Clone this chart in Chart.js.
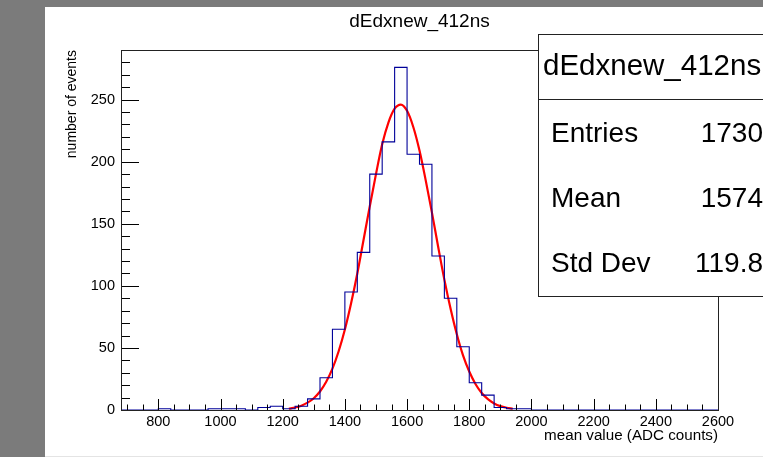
<!DOCTYPE html>
<html>
<head>
<meta charset="utf-8">
<script src="https://cdn.jsdelivr.net/npm/chart.js@4/dist/chart.umd.min.js"></script>
<style>
  html, body { margin: 0; padding: 0; }
  body { width: 763px; height: 457px; background: #7b7b7b; position: relative; overflow: hidden; }
  #pad { position: absolute; left: 45px; top: 7px; width: 718px; height: 449px; background: #fff; border-bottom: 1px solid #e4e4e4; }
  #wrap { position: absolute; left: 0; top: 0; width: 763px; height: 457px; }
</style>
</head>
<body>
<div id="pad"></div>
<div id="wrap"><canvas id="hist" width="763" height="457"></canvas></div>
<script>
// histogram: lower bin edges (40 ADC wide) and counts
var binEdges = [680, 720, 760, 800, 840, 880, 920, 960, 1000, 1040, 1080, 1120, 1160, 1200, 1240, 1280,
                1320, 1360, 1400, 1440, 1480, 1520, 1560, 1600, 1640, 1680, 1720, 1760, 1800, 1840, 1880, 1920,
                1960, 2000, 2040, 2080, 2120, 2160, 2200, 2240, 2280, 2320, 2360, 2400, 2440, 2480, 2520, 2560];
var upperEdge = 2600;
var counts = [0, 0, 0, 1, 0, 0, 0, 1, 1, 1, 0, 2, 3, 1, 3, 9,
              26, 65, 95, 127, 190, 216, 276, 206, 198, 124, 90, 51, 22, 12, 2, 1,
              1, 0, 0, 0, 0, 0, 0, 0, 0, 0, 0, 0, 0, 0, 0, 0];

// gaussian fit curve
var fitX = [1220, 1240, 1260, 1280, 1300, 1320, 1340, 1360, 1380, 1400, 1420, 1440, 1460, 1480, 1500, 1520,
            1540, 1560, 1580, 1600, 1620, 1640, 1660, 1680, 1700, 1720, 1740, 1760, 1780, 1800, 1820, 1840,
            1860, 1880, 1900, 1920, 1940];
var fitY = [1.1, 2.0, 3.5, 5.9, 9.5, 14.9, 22.7, 33.3, 47.3, 64.8, 86, 110, 137, 164, 190, 214,
            231.5, 242.7, 246, 241, 228, 209, 185, 159, 131.5, 105, 81.5, 61, 44, 31, 21, 13.7,
            8.7, 5.3, 3.1, 1.8, 1.0];

var xTickLabels = [800, 1000, 1200, 1400, 1600, 1800, 2000, 2200, 2400, 2600];
var yTickLabels = [0, 50, 100, 150, 200, 250];

var histTitle = 'dEdxnew_412ns';
var statsNames = ['Entries', 'Mean', 'Std Dev'];
var statsValues = ['1730', '1574', '119.8'];

var FONT = "'Liberation Sans', Arial, Helvetica, sans-serif";
Chart.defaults.font.family = FONT;
Chart.defaults.color = '#000';

var histPoints = binEdges.map(function (e, i) { return { x: e, y: counts[i] }; });
histPoints.push({ x: upperEdge, y: counts[counts.length - 1] });
var fitPoints = fitX.map(function (x, i) { return { x: x, y: fitY[i] }; });

// ROOT style frame with ticks pointing inwards
var frameTicks = {
    id: 'frameTicks',
    afterDatasetsDraw: function (chart) {
        var ctx = chart.ctx, a = chart.chartArea;
        var sx = chart.scales.x, sy = chart.scales.y;
        ctx.save();
        ctx.strokeStyle = '#000';
        ctx.lineWidth = 1;
        ctx.beginPath();
        for (var v = 700; v <= 2600; v += 50) {
            var px = Math.round(sx.getPixelForValue(v)) + 0.5;
            var len = (v % 200 === 0) ? 11 : 5.5;
            ctx.moveTo(px, a.bottom);
            ctx.lineTo(px, a.bottom - len);
        }
        for (var w = 0; w <= 290; w += 10) {
            var py = Math.round(sy.getPixelForValue(w)) + 0.5;
            var l2 = (w % 50 === 0) ? 18 : 9;
            ctx.moveTo(a.left, py);
            ctx.lineTo(a.left + l2, py);
        }
        ctx.stroke();
        ctx.strokeStyle = '#222';
        ctx.strokeRect(Math.round(a.left) + 0.5, Math.round(a.top) + 0.5,
                       Math.round(a.right - a.left), Math.round(a.bottom - a.top));
        ctx.restore();
    }
};

// title centred over the frame, and the stats box partly outside the picture
var statsBox = {
    id: 'statsBox',
    afterDraw: function (chart) {
        var ctx = chart.ctx, a = chart.chartArea;
        ctx.save();
        ctx.fillStyle = '#000';
        ctx.textBaseline = 'alphabetic';
        ctx.textAlign = 'center';
        ctx.font = '19px ' + FONT;
        ctx.fillText(histTitle, (a.left + a.right) / 2, 27);

        ctx.fillStyle = '#fff';
        ctx.fillRect(538, 34, 260, 262);
        ctx.strokeStyle = '#222';
        ctx.lineWidth = 1;
        ctx.strokeRect(538.5, 34.5, 260, 262);
        ctx.beginPath();
        ctx.moveTo(538, 99.5);
        ctx.lineTo(800, 99.5);
        ctx.stroke();
        ctx.fillStyle = '#000';
        ctx.textAlign = 'left';
        ctx.font = '29.5px ' + FONT;
        ctx.fillText(histTitle, 543, 75);
        ctx.font = '28px ' + FONT;
        for (var i = 0; i < statsNames.length; i++) {
            var base = 142 + i * 65;
            ctx.textAlign = 'left';
            ctx.fillText(statsNames[i], 551, base);
            ctx.textAlign = 'right';
            ctx.fillText(statsValues[i], 763, base);
        }
        ctx.restore();
    }
};

new Chart(document.getElementById('hist'), {
    type: 'line',
    data: {
        datasets: [
            {
                label: histTitle,
                data: histPoints,
                stepped: true,
                borderColor: '#000099',
                borderWidth: 1.1,
                pointRadius: 0,
                fill: false
            },
            {
                label: 'gaus fit',
                data: fitPoints,
                borderColor: '#ff0000',
                borderWidth: 2.2,
                pointRadius: 0,
                tension: 0.4,
                cubicInterpolationMode: 'monotone',
                fill: false
            }
        ]
    },
    options: {
        responsive: false,
        animation: false,
        devicePixelRatio: 1,
        layout: { padding: { left: 0, right: 45, top: 50, bottom: 0 } },
        plugins: {
            legend: { display: false },
            tooltip: { enabled: false },
            title: { display: false }
        },
        scales: {
            x: {
                type: 'linear',
                min: 680,
                max: 2600,
                grid: { display: false, drawTicks: false },
                border: { display: false },
                afterBuildTicks: function (s) { s.ticks = xTickLabels.map(function (v) { return { value: v }; }); },
                afterFit: function (s) { s.height = 47; },
                ticks: {
                    font: { size: 14.5 },
                    padding: 3,
                    maxRotation: 0,
                    autoSkip: false,
                    callback: function (v) { return String(v); }
                },
                title: {
                    display: true,
                    text: 'mean value (ADC counts)',
                    align: 'end',
                    font: { size: 15.2 },
                    padding: { top: 0, bottom: 12.5 }
                }
            },
            y: {
                min: 0,
                max: 290,
                grid: { display: false, drawTicks: false },
                border: { display: false },
                afterBuildTicks: function (s) { s.ticks = yTickLabels.map(function (v) { return { value: v }; }); },
                afterFit: function (s) { s.width = 121; },
                ticks: { font: { size: 14.5 }, padding: 6 },
                title: {
                    display: true,
                    text: 'number of events',
                    align: 'end',
                    font: { size: 14 },
                    padding: { top: 64, bottom: 0 }
                }
            }
        }
    },
    plugins: [frameTicks, statsBox]
});
</script>
</body>
</html>
